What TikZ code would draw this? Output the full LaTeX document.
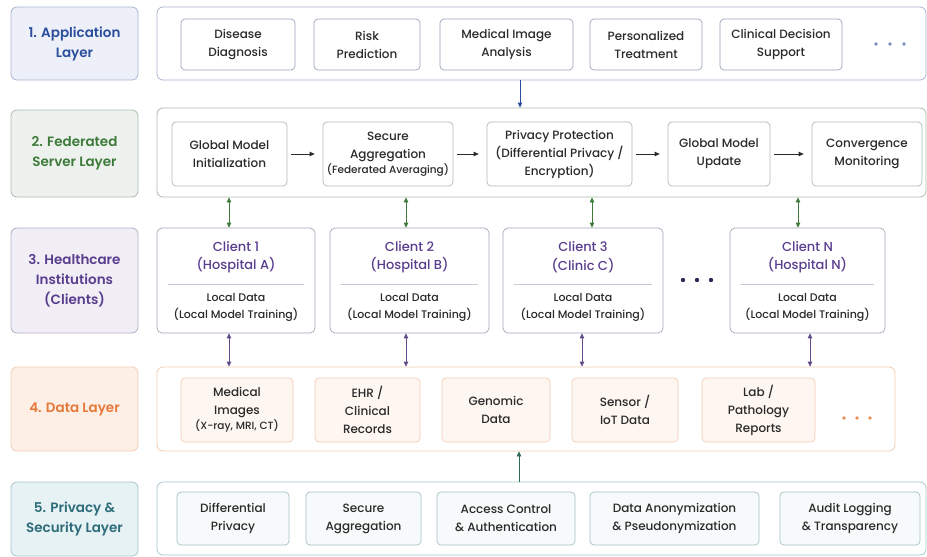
\documentclass[tikz,border=0pt]{standalone}
\usepackage{fontspec}
\setmainfont{Poppins}[UprightFont=* Medium, BoldFont=* SemiBold]
\usetikzlibrary{arrows.meta}
\definecolor{bluet}{HTML}{2B4F9E}
\definecolor{bluef}{HTML}{EDF0F8}
\definecolor{blueb}{HTML}{AAB5D0}
\definecolor{greent}{HTML}{3E7B3A}
\definecolor{greenf}{HTML}{EEF2EE}
\definecolor{greenb}{HTML}{AEBBAE}
\definecolor{purt}{HTML}{5A3E8E}
\definecolor{purf}{HTML}{F1EEF6}
\definecolor{purb}{HTML}{B4AEC4}
\definecolor{orat}{HTML}{E5793A}
\definecolor{oraf}{HTML}{FDEFE6}
\definecolor{orab}{HTML}{F3CDB4}
\definecolor{orainf}{HTML}{FDF6F1}
\definecolor{tealt}{HTML}{2E6C7A}
\definecolor{tealf}{HTML}{E6F2F4}
\definecolor{tealb}{HTML}{A8C7CD}
\definecolor{tealinf}{HTML}{F7FAFA}
\definecolor{tealar}{HTML}{2E6C5A}
\definecolor{txt}{HTML}{2A2A2A}
\begin{document}
\begin{tikzpicture}[x=1pt,y=-1pt,
  box/.style={draw, rounded corners=4pt, align=center, inner sep=1pt, line width=0.7pt, text=txt,
    font=\fontsize{12}{18}\selectfont},
  lab/.style={draw, rounded corners=6pt, align=center, line width=0.8pt,
    minimum width=127pt, font=\bfseries\fontsize{13.5}{20}\selectfont},
  cont/.style={draw, rounded corners=6pt, line width=0.8pt},
  arr/.style={line width=0.8pt, -{Triangle[length=5pt,width=4.5pt]}},
  barr/.style={line width=0.8pt, {Triangle[length=5pt,width=4.5pt]}-{Triangle[length=5pt,width=4.5pt]}},
]
\useasboundingbox[fill=white] (0,0) rectangle (927,557);

% ---------- Row 1 ----------
\node[lab, draw=blueb, fill=bluef, text=bluet, minimum height=73pt] (L1) at (74.5,43.5) {1. Application\\Layer};
\node[cont, draw=blueb, minimum width=769pt, minimum height=73pt] (C1) at (541.5,43.5) {};
\tikzset{abox/.style={box, draw=blueb!90!black, minimum height=51pt}}
\node[abox, minimum width=114pt] (a1) at (238,44.5) {Disease\\Diagnosis};
\node[abox, minimum width=106pt] (a2) at (367,44.5) {Risk\\Prediction};
\node[abox, minimum width=133pt] (a3) at (506.5,44.5) {Medical Image\\Analysis};
\node[abox, minimum width=112pt] (a4) at (646,44.5) {Personalized\\Treatment};
\node[abox, minimum width=122pt] (a5) at (781,44.5) {Clinical Decision\\Support};
\foreach \x in {876,890,904} \fill[blueb!60!bluet] (\x,44) circle (1.8pt);

% ---------- Row 2 ----------
\node[lab, draw=greenb, fill=greenf, text=greent, minimum height=87pt] (L2) at (74.5,153.5) {2. Federated\\Server Layer};
\node[cont, draw=greenb, minimum width=769pt, minimum height=89pt] (C2) at (541.5,152.5) {};
\tikzset{sbox/.style={box, draw=greenb, minimum height=64pt}}
\node[sbox, minimum width=115pt] (s1) at (229.5,154) {Global Model\\Initialization};
\node[sbox, minimum width=130pt] (s2) at (388,154) {Secure\\Aggregation\\[-3pt]{\fontsize{10.5}{12}\selectfont (Federated Averaging)}};
\node[sbox, minimum width=145pt] (s3) at (559.5,154) {Privacy Protection\\(Differential Privacy /\\Encryption)};
\node[sbox, minimum width=102pt] (s4) at (719,154) {Global Model\\Update};
\node[sbox, minimum width=110pt] (s5) at (867,154) {Convergence\\Monitoring};
\foreach \a/\b in {s1/s2,s2/s3,s3/s4,s4/s5}
  \draw[arr, txt, shorten <=4pt, shorten >=8pt] (\a.east) -- (\b.west);

\coordinate (xb) at (520,0);
\draw[arr, bluet] (C1.south -| xb) -- (C2.north -| xb);

% ---------- Row 3 ----------
\node[lab, draw=purb, fill=purf, text=purt, minimum height=105pt] (L3) at (74.5,280.5) {3. Healthcare\\Institutions\\(Clients)};
\tikzset{cbox/.style={draw=purb!80!gray, rounded corners=5pt, line width=0.7pt, minimum height=105pt}}
\node[cbox, minimum width=158pt] (c1) at (236,280.5) {};
\node[cbox, minimum width=159pt] (c2) at (409.5,280.5) {};
\node[cbox, minimum width=160pt] (c3) at (583,280.5) {};
\node[cbox, minimum width=155pt] (cN) at (807.5,280.5) {};
\foreach \c/\t/\s in {c1/Client 1/(Hospital A), c2/Client 2/(Hospital B), c3/Client 3/(Clinic C), cN/Client N/(Hospital N)}{
  \node[align=center, text=purt, font=\fontsize{13}{18.5}\selectfont] (\c t) at ([yshift=23.5pt]\c.center) {\t\\\s};
  \draw[purb!70!white, line width=0.7pt] ([xshift=11pt,yshift=-3.5pt]\c.west) -- ([xshift=-11pt,yshift=-3.5pt]\c.east);
  \node[align=center, text=txt, font=\fontsize{11}{17}\selectfont] (\c b) at ([yshift=-27pt]\c.center) {Local Data\\(Local Model Training)};
}
\foreach \x in {683,697,711} \fill[purt!60!black] (\x,280) circle (2.2pt);

\foreach \c/\x in {c1/229,c2/406,c3/592,cN/798}{
  \coordinate (g\c) at (\x,0);
  \draw[barr, greent] (C2.south -| g\c) -- (\c.north -| g\c);
}

% ---------- Row 4 ----------
\node[lab, draw=orab, fill=oraf, text=orat, minimum height=84pt] (L4) at (74.5,409) {4. Data Layer};
\node[cont, draw=orab, minimum width=738pt, minimum height=84pt] (C4) at (526,409) {};
\tikzset{dbox/.style={box, draw=orab, fill=orainf, minimum height=64pt}}
\node[dbox, minimum width=112pt] (d1) at (237,410) {Medical\\Images\\[-3pt]{\fontsize{10.5}{12}\selectfont (X-ray, MRI, CT)}};
\node[dbox, minimum width=105pt] (d2) at (367.5,410) {EHR /\\Clinical\\Records};
\node[dbox, minimum width=108pt] (d3) at (496,410) {Genomic\\Data};
\node[dbox, minimum width=106pt] (d4) at (625,410) {Sensor /\\IoT Data};
\node[dbox, minimum width=113pt] (d5) at (758.5,410) {Lab /\\Pathology\\Reports};
\foreach \x in {844,857,870} \fill[orat!85!white] (\x,418) circle (1.8pt);

\foreach \c/\x in {c1/229,c2/406,c3/582,cN/810}{
  \coordinate (p\c) at (\x,0);
  \draw[barr, purt!80!gray] (\c.south -| p\c) -- (C4.north -| p\c);
}

% ---------- Row 5 ----------
\node[lab, draw=tealb, fill=tealf, text=tealt, minimum height=74pt] (L5) at (74.5,519) {5. Privacy \&\\Security Layer};
\node[cont, draw=tealb, minimum width=769pt, minimum height=73pt] (C5) at (541.5,518.5) {};
\tikzset{pbox/.style={box, draw=tealb!90!gray, fill=tealinf, minimum height=53pt}}
\node[pbox, minimum width=112pt] (q1) at (233,518.5) {Differential\\Privacy};
\node[pbox, minimum width=115pt] (q2) at (363.5,518.5) {Secure\\Aggregation};
\node[pbox, minimum width=138pt] (q3) at (506,518.5) {Access Control\\\& Authentication};
\node[pbox, minimum width=169pt] (q4) at (674.5,518.5) {Data Anonymization\\\& Pseudonymization};
\node[pbox, minimum width=140pt] (q5) at (850,518.5) {Audit Logging\\\& Transparency};

\coordinate (xt) at (519,0);
\draw[arr, tealar] (C5.north -| xt) -- (C4.south -| xt);
\end{tikzpicture}
\end{document}
